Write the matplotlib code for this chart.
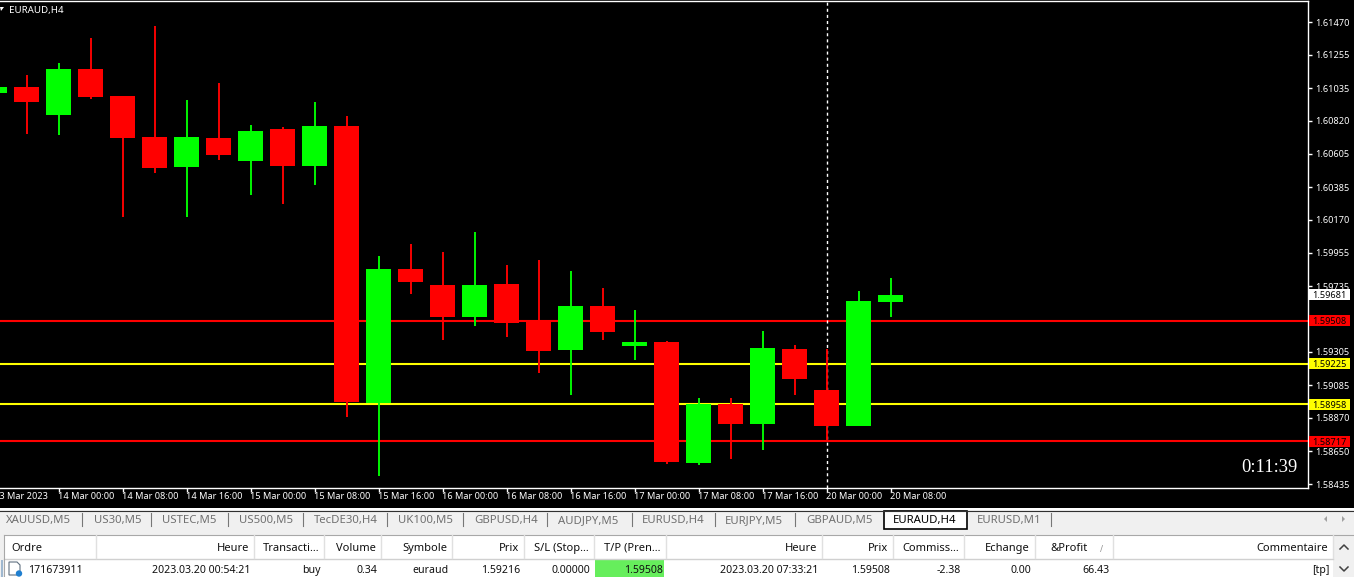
import matplotlib
matplotlib.use("Agg")
import matplotlib.pyplot as plt
from matplotlib.patches import Rectangle, Polygon, Circle
from matplotlib.transforms import blended_transform_factory

# -----------------------------
# DATA
# -----------------------------
opens = [1.61004, 1.61043, 1.60859, 1.61162, 1.60984, 1.60715, 1.60518, 1.60708, 1.60557,
         1.60767, 1.60524, 1.60787, 1.58967, 1.59848, 1.59742, 1.59532, 1.59749, 1.59512,
         1.59315, 1.59604, 1.59342, 1.59368, 1.58573, 1.58961, 1.58829, 1.59322, 1.59053,
         1.58816, 1.59631]
closes = [1.61043, 1.60947, 1.61162, 1.60978, 1.60710, 1.60513, 1.60715, 1.60597, 1.60754,
          1.60524, 1.60787, 1.58976, 1.59848, 1.59762, 1.59532, 1.59742, 1.59493, 1.59309,
          1.59604, 1.59434, 1.59368, 1.58580, 1.58961, 1.58829, 1.59329, 1.59125, 1.58816,
          1.59637, 1.59677]
highs = [1.61043, 1.61122, 1.61201, 1.61367, 1.60984, 1.61444, 1.60958, 1.61070, 1.60794,
         1.60780, 1.60945, 1.60853, 1.59933, 1.60012, 1.59959, 1.60091, 1.59874, 1.59907,
         1.59834, 1.59723, 1.59578, 1.59375, 1.59000, 1.59000, 1.59440, 1.59348, 1.59322,
         1.59703, 1.59788]
lows = [1.61004, 1.60736, 1.60728, 1.60964, 1.60191, 1.60478, 1.60191, 1.60564, 1.60334,
        1.60275, 1.60399, 1.58875, 1.58488, 1.59683, 1.59381, 1.59473, 1.59401, 1.59164,
        1.59020, 1.59381, 1.59250, 1.58566, 1.58560, 1.58599, 1.58658, 1.59020, 1.58724,
        1.58816, 1.59532]
# green candles, the chart colours them by the broker feed so not always open < close
green_candles = [0, 2, 6, 8, 10, 12, 15, 18, 20, 22, 24, 27, 28]

first_index = -1
xtick_index = [-1, 1, 3, 5, 7, 9, 11, 13, 15, 17, 19, 21, 23, 25, 27]
xtick_labels = ["13 Mar 2023", "14 Mar 00:00", "14 Mar 08:00", "14 Mar 16:00", "15 Mar 00:00",
                "15 Mar 08:00", "15 Mar 16:00", "16 Mar 00:00", "16 Mar 08:00", "16 Mar 16:00",
                "17 Mar 00:00", "17 Mar 08:00", "17 Mar 16:00", "20 Mar 00:00", "20 Mar 08:00"]
ytick_values = [1.61470, 1.61255, 1.61035, 1.60820, 1.60605, 1.60385, 1.60170, 1.59955,
                1.59735, 1.59305, 1.59085, 1.58870, 1.58650, 1.58435]

level_prices = [1.59508, 1.59225, 1.58958, 1.58717]
level_colors = ["#ff0000", "#ffff00", "#ffff00", "#ff0000"]
current_price = 1.59681

tab_names = ["XAUUSD,M5", "US30,M5", "USTEC,M5", "US500,M5", "TecDE30,H4", "UK100,M5", "GBPUSD,H4",
             "AUDJPY,M5", "EURUSD,H4", "EURJPY,M5", "GBPAUD,M5", "EURAUD,H4", "EURUSD,M1"]
tab_left = [6, 94, 162, 239, 314, 398, 474, 558, 642, 725, 806, 893, 977]
tab_seps = [82, 151, 228, 303, 387, 463, 547, 632, 715, 795, 1051]

col_edges = [4, 96, 254, 324, 381, 452, 524, 594, 666, 822, 893, 964, 1035, 1113, 1333]
headers = ["Ordre", "Heure", "Transacti...", "Volume", "Symbole", "Prix", "S/L (Stop...", "T/P (Pren...",
           "Heure", "Prix", "Commiss...", "Echange", "&Profit", "Commentaire"]
row_cells = ["171673911", "2023.03.20 00:54:21", "buy", "0.34", "euraud", "1.59216", "0.00000", "1.59508",
             "2023.03.20 07:33:21", "1.59508", "-2.38", "0.00", "66.43", "[tp]"]

# -----------------------------
# CONFIG
# -----------------------------
W, H = 1354, 577
UI_FONT = "Noto Sans"
UP = "#00ff00"
DOWN = "#ff0000"
PX_PRICE = 0.0000657
AXIS_SIZE = 6.6

plt.rcParams["font.family"] = UI_FONT

fig = plt.figure(figsize=(W / 100, H / 100), dpi=100, facecolor="black")

# -----------------------------
# CHART
# -----------------------------
ax = fig.add_axes([0, (H - 487.5) / H, 1308 / W, 486.5 / H], facecolor="black")

for price, color in zip(level_prices, level_colors):
    ax.axhline(price, color=color, lw=1.5, zorder=1)

ax.axvline(25, color="white", lw=1, dashes=(2.2, 2.2), zorder=2)

for n, (o, c, h, l) in enumerate(zip(opens, closes, highs, lows)):
    i = first_index + n
    color = UP if n in green_candles else DOWN
    ax.vlines(i, l, h, color=color, lw=1.35, zorder=3)
    ax.bar(i, abs(c - o), bottom=min(o, c), width=25 / 32, color=color, lw=0, zorder=4)

ax.spines["left"].set_visible(False)
for side in ["top", "right", "bottom"]:
    ax.spines[side].set_color("white")
    ax.spines[side].set_linewidth(1)

ax.yaxis.tick_right()
ax.set_yticks(ytick_values)
ax.set_yticklabels([f"{v:.5f}" for v in ytick_values])
# first date sits off the left edge, it gets cut like in the terminal
ax.set_xticks(xtick_index[1:])
ax.set_xticklabels(xtick_labels[1:], ha="left")
ax.tick_params(axis="y", colors="white", length=3, width=1, pad=2, labelsize=AXIS_SIZE)
ax.tick_params(axis="x", colors="white", length=3, width=1, pad=0.5, labelsize=AXIS_SIZE)

# limits go last, set_xticks would widen them
ax.set_xlim(-26.5 / 32, (1308 - 26.5) / 32)
ax.set_ylim(1.58435 - 3.5 * PX_PRICE, 1.58435 + 483 * PX_PRICE)

bottom_tf = blended_transform_factory(ax.transData, ax.transAxes)
ax.text(xtick_index[0], -4.8 / 486.5, xtick_labels[0], transform=bottom_tf, color="white", fontsize=AXIS_SIZE,
        ha="left", va="top", clip_on=False)

# price tags on the right axis
tag_tf = blended_transform_factory(ax.transAxes, ax.transData)
tag_prices = level_prices + [current_price]
tag_colors = level_colors + ["#ffffff"]
for price, color in zip(tag_prices, tag_colors):
    ax.add_patch(Rectangle((1 + 1 / 1308, price - 5.5 * PX_PRICE), 41 / 1308, 11 * PX_PRICE, transform=tag_tf,
                           facecolor=color, edgecolor="none", clip_on=False, zorder=6))
    ax.text(1 + 21.5 / 1308, price, f"{price:.5f}", transform=tag_tf, color="black", fontsize=AXIS_SIZE,
            ha="center", va="center_baseline", clip_on=False, zorder=7)

ax.text(9 / 1308, 1 - 8 / 486.5, "EURAUD,H4", transform=ax.transAxes, color="white", fontsize=7.0,
        ha="left", va="center_baseline", zorder=7)
ax.text(1297 / 1308, 1 - 467 / 486.5, "0:11:39", transform=ax.transAxes, color="white", fontsize=13.3,
        family="Liberation Serif", ha="right", va="center", zorder=7)

# -----------------------------
# TABS + TABLE (pixel overlay)
# -----------------------------
ui = fig.add_axes([0, 0, 1, 1], facecolor="none")
ui.set_xlim(0, W)
ui.set_ylim(H, 0)
ui.axis("off")

ui.add_patch(Rectangle((0, 508), W, 69, facecolor="#f0f0f0", edgecolor="none"))
ui.add_patch(Rectangle((0, 508), W, 2, facecolor="white", edgecolor="none"))
ui.plot([0, W], [510.5, 510.5], color="#303030", lw=0.8)
ui.add_patch(Rectangle((883.5, 510.5), 83.5, 18.5, facecolor="white", edgecolor="black", lw=1.2))

for name, x in zip(tab_names, tab_left):
    ui.text(x, 519.5, name, color="black" if name == "EURAUD,H4" else "#707070", fontsize=8.2,
            ha="left", va="center_baseline")
for x in tab_seps:
    ui.plot([x, x], [513, 526], color="#777777", lw=0.8)
ui.add_patch(Polygon([[1327, 516], [1327, 522], [1324, 519]], facecolor="#a0a0a0"))
ui.add_patch(Polygon([[1342, 516], [1342, 522], [1345, 519]], facecolor="#a0a0a0"))

# table body
ui.add_patch(Rectangle((4, 535), 1350, 42, facecolor="white", edgecolor="none"))
ui.plot([4, 1354], [534.5, 534.5], color="#a8a8a8", lw=0.8)
ui.plot([4, 1333], [558.5, 558.5], color="#d0d0d0", lw=1)
ui.plot([4, 4], [535, 577], color="#a8a8a8", lw=0.8)
ui.add_patch(Rectangle((1, 560), 2, 17, facecolor="#9fb8d0", edgecolor="none"))
ui.add_patch(Rectangle((595, 559.5), 69, 17.5, facecolor="#66ee5c", edgecolor="none"))
for x in col_edges[1:]:
    ui.plot([x, x], [535, 558], color="#e0e0e0", lw=1)

for i, head in enumerate(headers):
    if i == 0:
        ui.text(11, 547, head, color="#101010", fontsize=8, ha="left", va="center_baseline")
    elif head == "&Profit":
        ui.text(1088, 547, head, color="#101010", fontsize=8, ha="right", va="center_baseline")
        ui.text(1101, 548, "/", color="#909090", fontsize=6, ha="center", va="center_baseline")
    else:
        ui.text(col_edges[i + 1] - 5, 547, head, color="#101010", fontsize=8, ha="right", va="center_baseline")

for i, cell in enumerate(row_cells):
    if i == 0:
        ui.text(28, 569, cell, color="#101010", fontsize=7.6, ha="left", va="center_baseline")
    else:
        ui.text(col_edges[i + 1] - 3.5, 569, cell, color="#101010", fontsize=7.6, ha="right", va="center_baseline")

# order icon
ui.add_patch(Polygon([[9, 562], [17, 562], [20, 565], [20, 575], [9, 575]], facecolor="white",
                     edgecolor="#607080", lw=0.8))
ui.add_patch(Circle((19, 573.5), 3.2, facecolor="#1f7fd0", edgecolor="none"))

# menu triangle on chart + scrollbar arrows
ui.add_patch(Polygon([[0, 7], [4, 7], [1, 11]], facecolor="white"))
ui.add_patch(Rectangle((1333, 535), 21, 42, facecolor="#f0f0f0", edgecolor="none"))
ui.plot([1340, 1344, 1348], [549, 545, 549], color="#404040", lw=1.1)
ui.plot([1340, 1344, 1348], [567, 571, 567], color="#404040", lw=1.1)

fig.savefig("out.png", dpi=100, facecolor="black")
